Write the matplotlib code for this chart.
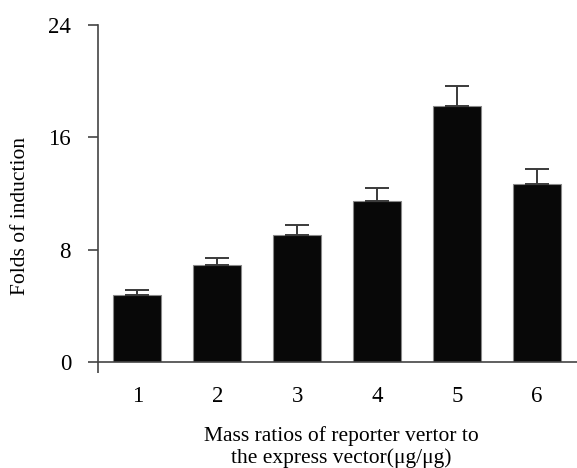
import matplotlib
matplotlib.use("Agg")
import matplotlib.pyplot as plt
import numpy as np

categories = ["1", "2", "3", "4", "5", "6"]
values = [4.8, 6.9, 9.05, 11.5, 18.25, 12.7]
errors = [0.36, 0.54, 0.72, 0.88, 1.4, 1.05]
yticks = [0, 8, 16, 24]

plt.rcParams['font.family'] = ['Liberation Serif', 'DejaVu Serif']

fig = plt.figure(figsize=(5.77, 4.68), dpi=100)
ax = fig.add_axes([0.169, 0.226, 0.831, 0.7206])

x = np.arange(1, len(categories) + 1)
ax.bar(x, values, width=0.6, color='#080808', edgecolor='#888888', linewidth=0.8, zorder=2)
ax.errorbar(x, values, yerr=[np.zeros(len(errors)), errors], fmt='none',
            ecolor='#3a3a3a', elinewidth=1.4, capsize=8.5, capthick=1.4, zorder=3)

ax.set_xlim(0.5, 6.5)
ax.set_ylim(0, 24)
ax.set_yticks(yticks)
ax.set_yticklabels([str(t) for t in yticks], fontsize=16.5)
ax.set_xticks(x)
ax.set_xticklabels(categories, fontsize=16.5)
ax.tick_params(axis='x', length=0, pad=17)
ax.tick_params(axis='y', length=7, width=1.2, color='#444444', pad=12, direction='out')
ax.set_xticks([0.5], minor=True)
ax.tick_params(axis='x', which='minor', length=8, width=1.2, color='#444444', direction='out')

for s in ['top', 'right']:
    ax.spines[s].set_visible(False)
for s in ['left', 'bottom']:
    ax.spines[s].set_color('#444444')
    ax.spines[s].set_linewidth(1.2)

ylab = ax.set_ylabel("Folds of induction", fontsize=15.5)
ax.yaxis.set_label_coords(-0.1616, 0.434)
ylab.set_va('center')
xlab = ax.set_xlabel("Mass ratios of reporter vertor to\nthe express vector(\u03bcg/\u03bcg)",
                     fontsize=15.5, linespacing=1.1)
ax.xaxis.set_label_coords(0.509, -0.2513)
xlab.set_va('center')

fig.savefig("out.png", dpi=100)
